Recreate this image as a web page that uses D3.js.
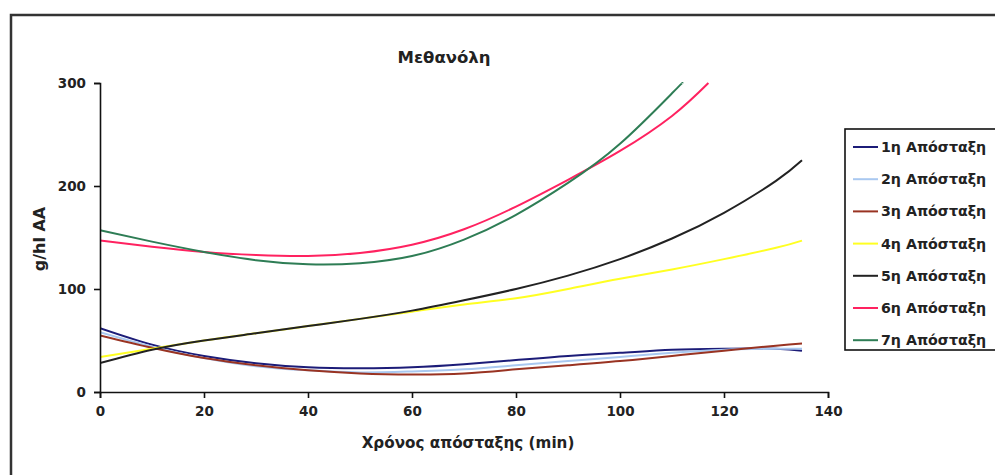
<!DOCTYPE html>
<html>
<head>
<meta charset="utf-8">
<script src="https://d3js.org/d3.v7.min.js"></script>
<style>
  body { margin: 0; background: #fff; }
  text { font-family: "DejaVu Sans", sans-serif; font-weight: bold; fill: #222; }
</style>
</head>
<body>
<div id="graphic"></div>
<script>
// series names, colours and values (g/hl AA vs minutes)
var seriesNames = ["1η Απόσταξη", "2η Απόσταξη", "3η Απόσταξη", "4η Απόσταξη", "5η Απόσταξη", "6η Απόσταξη", "7η Απόσταξη"];
var seriesColors = ["#1c1c78", "#a9c8f0", "#993322", "#ffff22", "#222222", "#ff2260", "#2e7d55"];

var timesA = [0, 10, 20, 30, 40, 50, 60, 70, 80, 90, 100, 110, 120, 130, 135];
var s1 = [62, 46, 35, 28, 24, 23, 24, 27, 31, 35, 38, 41, 42, 42, 40];
var s2 = [58, 44, 33, 25, 21, 19, 20, 22, 26, 30, 34, 38, 41, 42, 42];
var s3 = [55, 43, 33, 26, 21, 18, 17, 18, 22, 26, 30, 35, 40, 45, 47];
var s4 = [34, 42, 50, 57, 64, 71, 78, 85, 91, 100, 110, 119, 129, 140, 147];
var s5 = [28, 41, 50, 57, 64, 71, 79, 89, 100, 113, 129, 149, 174, 205, 225];

var times6 = [0, 10, 20, 30, 40, 50, 60, 70, 80, 90, 100, 110, 117];
var s6 = [147, 141, 136, 133, 132, 135, 143, 158, 180, 206, 234, 268, 300];

var times7 = [0, 10, 20, 30, 40, 50, 60, 70, 80, 90, 100, 110, 112];
var s7 = [157, 146, 136, 128, 124, 125, 132, 148, 172, 203, 241, 290, 300];

var xTicks = [0, 20, 40, 60, 80, 100, 120, 140];
var yTicks = [0, 100, 200, 300];

var seriesTimes = [timesA, timesA, timesA, timesA, timesA, times6, times7];
var seriesValues = [s1, s2, s3, s4, s5, s6, s7];

// build point lists for d3.line
var data = seriesNames.map(function (name, i) {
  return {
    name: name,
    color: seriesColors[i],
    points: seriesTimes[i].map(function (t, j) { return { t: t, v: seriesValues[i][j] }; })
  };
});

var W = 995, H = 475;
var plot = { left: 100, right: 828, top: 83, bottom: 392 };

var svg = d3.select("#graphic").append("svg")
    .attr("width", W)
    .attr("height", H);

// outer chart frame (runs off the right and bottom edges)
svg.append("rect")
    .attr("x", 11).attr("y", 15)
    .attr("width", 1000).attr("height", 500)
    .attr("fill", "none")
    .attr("stroke", "#333")
    .attr("stroke-width", 2.5);

var x = d3.scaleLinear().domain([0, 140]).range([plot.left, plot.right]);
var y = d3.scaleLinear().domain([0, 300]).range([plot.bottom, plot.top]);

svg.append("clipPath").attr("id", "clip")
  .append("rect")
    .attr("x", plot.left).attr("y", plot.top - 1)
    .attr("width", plot.right - plot.left)
    .attr("height", plot.bottom - plot.top + 1);

var line = d3.line()
    .x(function (d) { return x(d.t); })
    .y(function (d) { return y(d.v); })
    .curve(d3.curveNatural);

svg.append("g")
    .attr("clip-path", "url(#clip)")
  .selectAll("path")
    .data(data)
  .enter().append("path")
    .attr("d", function (d) { return line(d.points); })
    .attr("fill", "none")
    .attr("stroke", function (d) { return d.color; })
    .attr("stroke-width", 2);

// axes
var xAxis = svg.append("g")
    .attr("transform", "translate(0," + plot.bottom + ")")
    .call(d3.axisBottom(x).tickValues(xTicks).tickSize(6).tickPadding(8));
var yAxis = svg.append("g")
    .attr("transform", "translate(" + plot.left + ",0)")
    .call(d3.axisLeft(y).tickValues(yTicks).tickSize(6).tickPadding(8));

[xAxis, yAxis].forEach(function (g) {
  g.select(".domain").attr("stroke", "#111").attr("stroke-width", 1.6);
  g.selectAll(".tick line").attr("stroke", "#111").attr("stroke-width", 1.6);
  g.selectAll(".tick text")
      .style("font-family", "DejaVu Sans, sans-serif")
      .style("font-weight", "bold")
      .style("font-size", "13.5px")
      .attr("fill", "#222");
});

// titles
svg.append("text")
    .attr("x", 444).attr("y", 63)
    .attr("text-anchor", "middle")
    .style("font-size", "16.5px")
    .text("Μεθανόλη");

svg.append("text")
    .attr("x", 468).attr("y", 448)
    .attr("text-anchor", "middle")
    .style("font-size", "15.2px")
    .text("Χρόνος απόσταξης (min)");

svg.append("text")
    .attr("transform", "translate(45,239) rotate(-90)")
    .attr("text-anchor", "middle")
    .style("font-size", "16px")
    .text("g/hl AA");

// legend
var legend = svg.append("g");
legend.append("rect")
    .attr("x", 845).attr("y", 129)
    .attr("width", 160).attr("height", 221)
    .attr("fill", "#fff")
    .attr("stroke", "#111")
    .attr("stroke-width", 1.6);

var item = legend.selectAll("g.item")
    .data(data)
  .enter().append("g")
    .attr("class", "item")
    .attr("transform", function (d, i) { return "translate(0," + (147 + i * 32.2) + ")"; });

item.append("line")
    .attr("x1", 853).attr("x2", 878)
    .attr("y1", 0).attr("y2", 0)
    .attr("stroke", function (d) { return d.color; })
    .attr("stroke-width", 2);

item.append("text")
    .attr("x", 881).attr("y", 5)
    .style("font-size", "14.2px")
    .text(function (d) { return d.name; });
</script>
</body>
</html>
